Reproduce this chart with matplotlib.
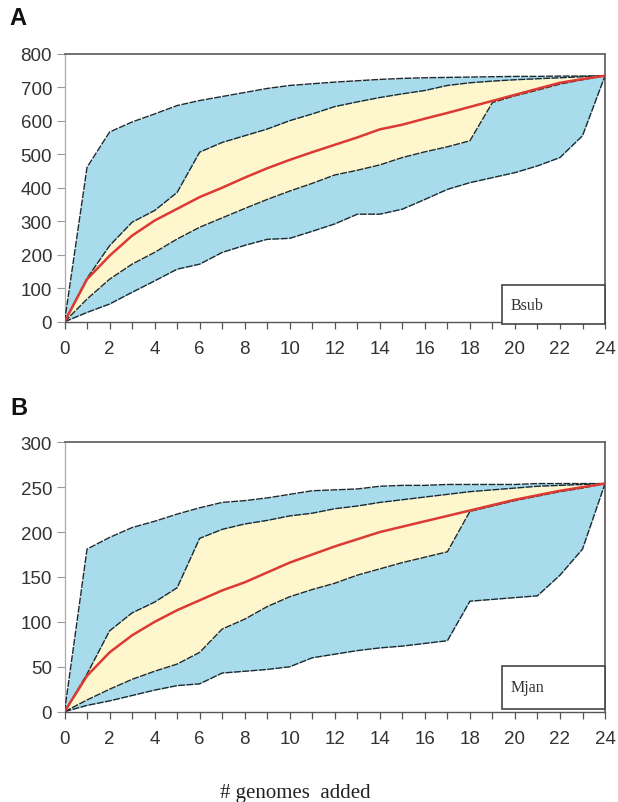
import matplotlib
matplotlib.use("Agg")
import matplotlib.pyplot as plt
from matplotlib.patches import Rectangle

genomes = list(range(25))

# Panel A (Bsub)
a_max   = [0, 461, 566, 596, 620, 645, 660, 672, 684, 696, 705, 710, 715, 719, 723, 726, 728, 729, 730, 731, 732, 732, 733, 733, 734]
a_upper = [0, 130, 227, 297, 332, 386, 506, 535, 555, 575, 600, 620, 642, 656, 669, 680, 690, 705, 713, 718, 722, 725, 728, 731, 734]
a_mean  = [0, 127, 197, 257, 302, 337, 372, 400, 430, 458, 483, 506, 528, 550, 574, 588, 606, 623, 641, 659, 677, 695, 713, 724, 734]
a_lower = [0, 68, 127, 172, 207, 247, 282, 310, 338, 365, 390, 413, 438, 452, 468, 490, 507, 522, 540, 654, 674, 691, 709, 722, 734]
a_min   = [0, 28, 53, 88, 122, 157, 172, 207, 228, 246, 249, 270, 292, 321, 321, 336, 365, 395, 415, 430, 445, 465, 490, 555, 734]

# Panel B (Mjan)
b_max   = [0, 181, 194, 205, 212, 220, 227, 233, 235, 238, 242, 246, 247, 248, 251, 252, 252, 253, 253, 253, 253, 254, 254, 254, 254]
b_upper = [0, 42, 90, 110, 122, 138, 193, 203, 209, 213, 218, 221, 226, 229, 233, 236, 239, 242, 245, 247, 249, 251, 252, 253, 254]
b_mean  = [0, 40, 66, 85, 100, 113, 124, 135, 144, 155, 166, 175, 184, 192, 200, 206, 212, 218, 224, 230, 236, 241, 246, 250, 254]
b_lower = [0, 13, 25, 36, 45, 53, 66, 92, 103, 117, 128, 136, 143, 152, 159, 166, 172, 178, 223, 229, 235, 240, 245, 249, 254]
b_min   = [0, 7, 12, 18, 24, 29, 31, 43, 45, 47, 50, 60, 64, 68, 71, 73, 76, 79, 123, 125, 127, 129, 152, 181, 254]

panels = [
    dict(letter="A", name="Bsub", ymax=800, ystep=100,
         mx=a_max, up=a_upper, mean=a_mean, lo=a_lower, mn=a_min),
    dict(letter="B", name="Mjan", ymax=300, ystep=50,
         mx=b_max, up=b_upper, mean=b_mean, lo=b_lower, mn=b_min),
]

BLUE = "#a8dcec"
YELLOW = "#fef6cd"
RED = "#dc3a34"
DARK = "#1f2a30"
AXC = "#555555"

fig = plt.figure(figsize=(6.18, 8.03), dpi=100)
rects = [[0.1044, 0.598, 0.8746, 0.334], [0.1044, 0.1125, 0.8746, 0.3355]]
boxes = [(-0.009, 0.146), (0.010, 0.161)]
letter_y = [0.977, 0.491]

for p, r, bx, ly in zip(panels, rects, boxes, letter_y):
    ax = fig.add_axes(r)
    ax.fill_between(genomes, p["mn"], p["mx"], color=BLUE, lw=0, zorder=1)
    ax.fill_between(genomes, p["lo"], p["up"], color=YELLOW, lw=0, zorder=2)
    for key in ("mx", "up", "lo", "mn"):
        ax.plot(genomes, p[key], color=DARK, lw=1.0, ls=(0, (5, 1)), zorder=3)
    ax.plot(genomes, p["mean"], color=RED, lw=1.8, zorder=4)
    ax.set_xlim(0, 24)
    ax.set_ylim(0, p["ymax"])
    ax.set_xticks(range(0, 25, 2))
    ax.set_xticks(range(0, 25), minor=True)
    ax.set_yticks(range(0, p["ymax"] + 1, p["ystep"]))
    ax.tick_params(axis="both", labelsize=13.5, colors="#333333", labelcolor="#333333")
    ax.tick_params(axis="x", which="both", length=5, width=0.9, color=AXC, direction="out", pad=8)
    ax.tick_params(axis="y", length=6, width=0.8, color="#999999", pad=3)
    for lab in ax.get_xticklabels() + ax.get_yticklabels():
        lab.set_family("Liberation Sans")
    ax.spines["left"].set_color("#aaaaaa")
    ax.spines["left"].set_linewidth(0.9)
    ax.spines["bottom"].set_color(AXC)
    ax.spines["bottom"].set_linewidth(1.0)
    ax.spines["top"].set_color("#666666")
    ax.spines["top"].set_linewidth(1.3)
    ax.spines["right"].set_color("#666666")
    ax.spines["right"].set_linewidth(1.3)
    ax.add_patch(Rectangle((0.809, bx[0]), 0.191, bx[1], transform=ax.transAxes,
                           facecolor="white", edgecolor="#444444", lw=1.2,
                           clip_on=False, zorder=6))
    ax.text(0.826, bx[0] + bx[1] / 2, p["name"], transform=ax.transAxes,
            family="Liberation Serif", fontsize=11.5, color="#333333",
            ha="left", va="center", zorder=7)
    fig.text(0.016, ly, p["letter"], fontsize=17, fontweight="bold",
             family="Liberation Sans", ha="left", va="center", color="#111111")

fig.text(0.478, 0.012, "# genomes  added", family="Liberation Serif",
         fontsize=15, ha="center", va="center", color="#222222")

fig.savefig("out.png", dpi=100)
